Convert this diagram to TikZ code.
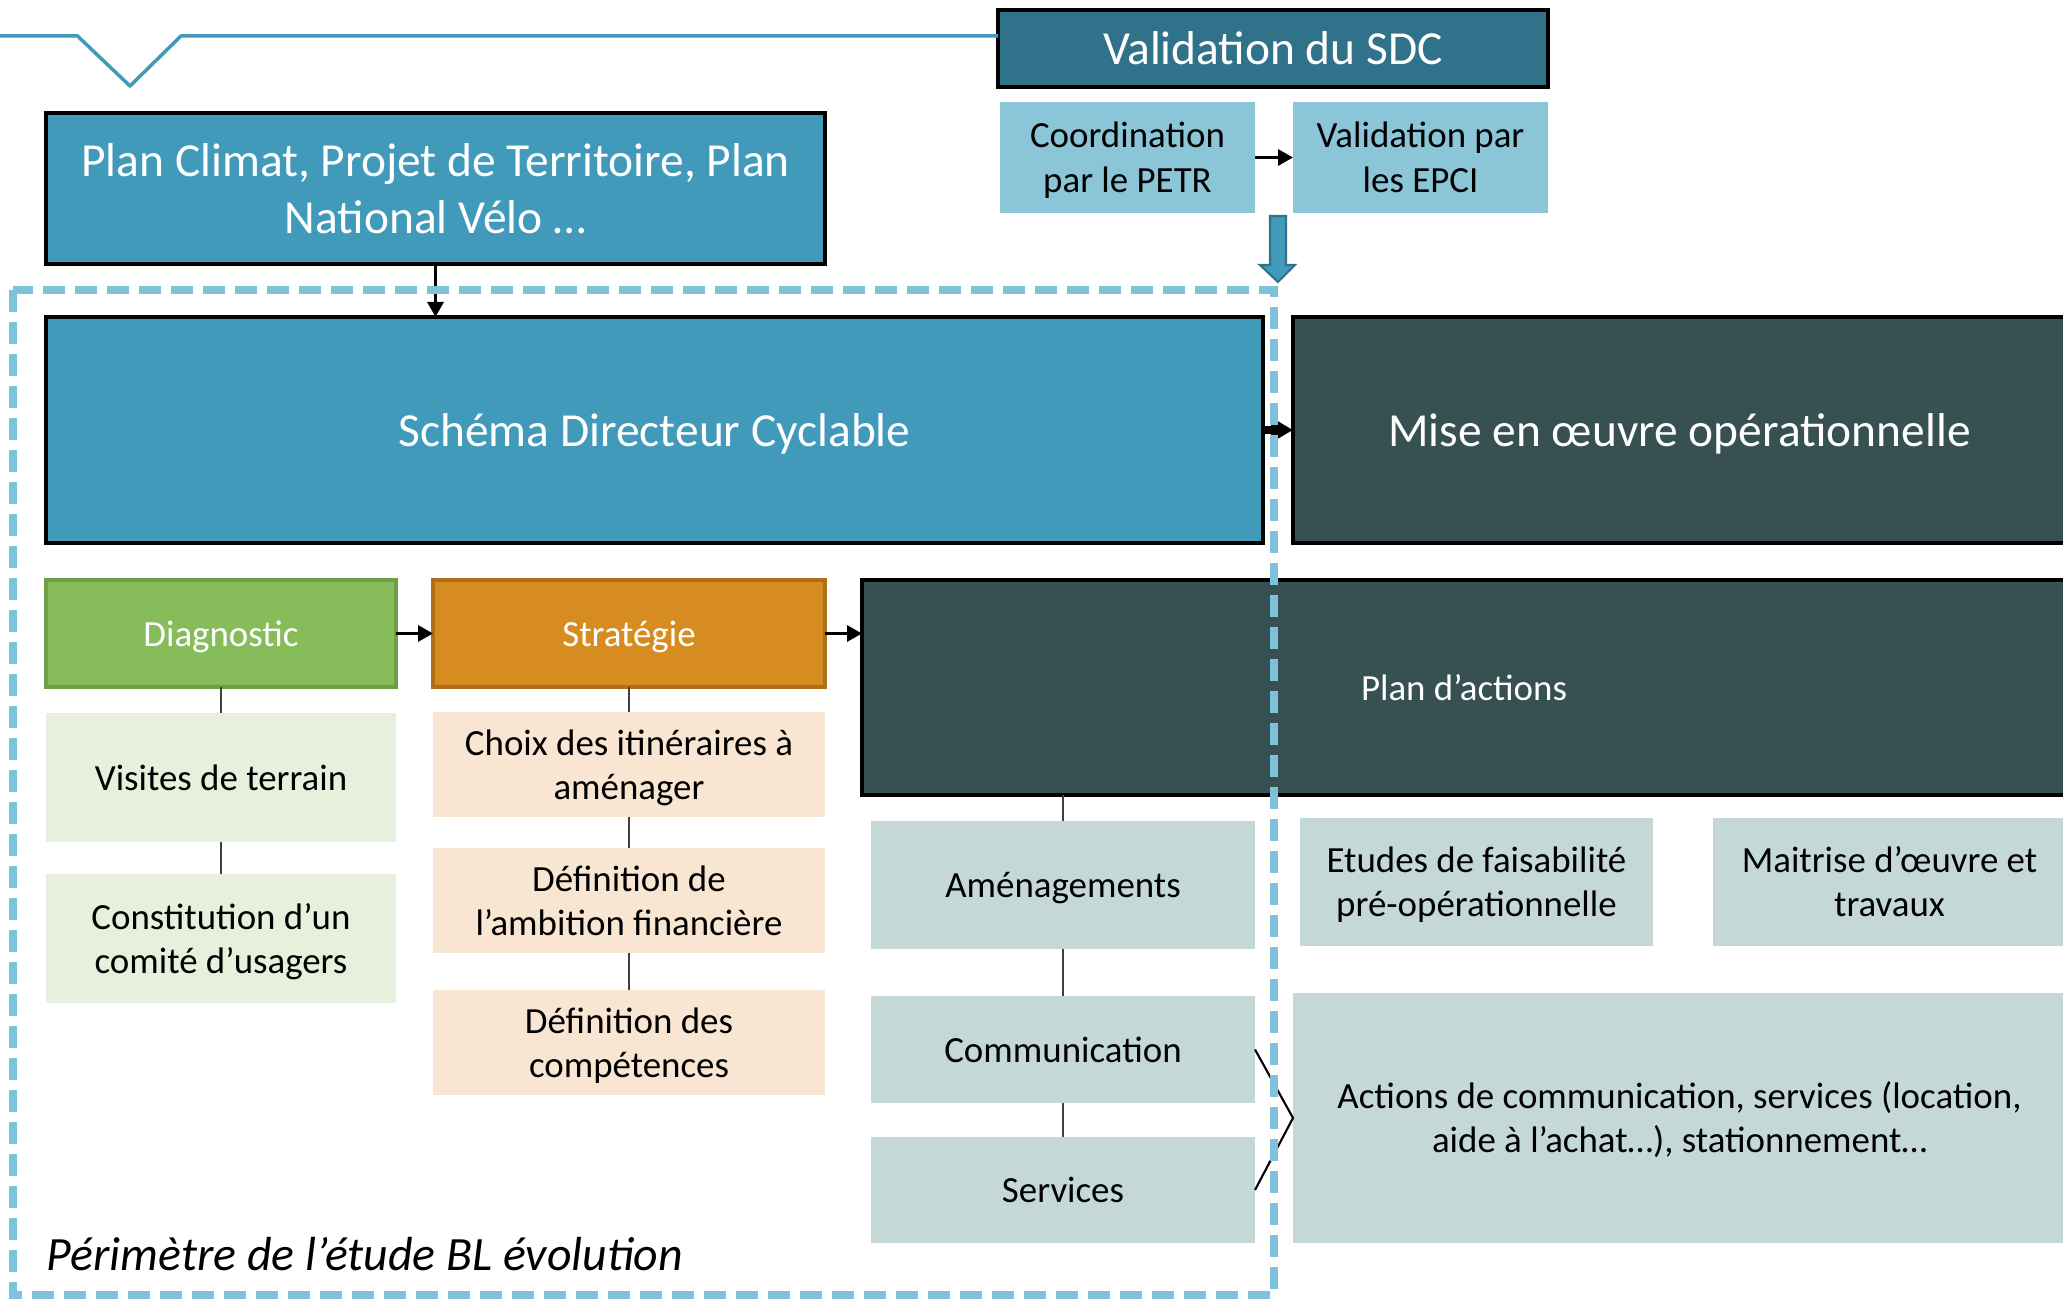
\documentclass[tikz,border=0pt]{standalone}
\usepackage{fontspec}
\setmainfont{Carlito}
\usepackage{xcolor}
\usepackage{tikz}
\usetikzlibrary{positioning, arrows.meta}

\definecolor{sdcblue}{HTML}{419AB9}
\definecolor{valteal}{HTML}{2F7289}
\definecolor{petrblue}{HTML}{8BC5D8}
\definecolor{slate}{HTML}{375152}
\definecolor{diaggreen}{HTML}{86BD5A}
\definecolor{diagedge}{HTML}{6E9E46}
\definecolor{stratorange}{HTML}{D78C22}
\definecolor{stratedge}{HTML}{AF6E18}
\definecolor{palegreen}{HTML}{E6F0DC}
\definecolor{paleorange}{HTML}{F8E6D2}
\definecolor{paleteal}{HTML}{C5D8D8}
\definecolor{dashblue}{HTML}{7EC3DB}
\definecolor{linkgray}{HTML}{404040}

\begin{document}
\begin{tikzpicture}[
    % Boxes with a black frame and white text
    bigbox/.style={
        rectangle,
        draw=black,
        line width=1pt,
        text=white,
        font=\fontsize{13.5}{16.2}\selectfont,
        inner sep=0pt,
        outer sep=0pt,
        align=center
    },
    % Light boxes, no frame, dark text
    subbox/.style={
        rectangle,
        text=black,
        font=\fontsize{10.5}{12.6}\selectfont,
        inner sep=0pt,
        outer sep=0pt,
        align=center
    },
    phase/.style={
        rectangle,
        line width=1pt,
        text=white,
        font=\fontsize{10.5}{12.6}\selectfont,
        inner sep=0pt,
        outer sep=0pt,
        align=center
    },
    % line boxes like the slide software: fixed ascent / descent
    small1/.style={text height=10pt, text depth=2.8pt},
    small2/.style={text height=22.6pt, text depth=2.8pt},
    large1/.style={text height=12.85pt, text depth=3.6pt},
    large2/.style={text height=29.05pt, text depth=3.6pt},
    link/.style={
        draw=linkgray,
        line width=0.6pt
    },
    flow/.style={
        draw=black,
        line width=0.9pt,
        -{Triangle[length=1.5mm, width=1.6mm]}
    },
    bigflow/.style={
        draw=black,
        line width=2pt,
        -{Triangle[length=2.2mm, width=2.4mm]}
    },
    perimeter/.style={
        draw=dashblue,
        line width=0.8mm,
        dash pattern=on 2.2mm off 1mm
    }
]
    \useasboundingbox (0,0) rectangle (20.63,-13.00);

    % --- Top: validation of the SDC ---
    \node[bigbox, large1, fill=valteal, minimum width=5.50cm, minimum height=0.77cm] (valsdc) at (12.73,-0.485) {Validation du SDC};
    \node[subbox, small2, fill=petrblue, minimum width=2.55cm, minimum height=1.11cm] (coord) at (11.275,-1.575) {Coordination\\par le PETR};
    \node[subbox, small2, fill=petrblue, minimum width=2.55cm, minimum height=1.11cm] (valepci) at (14.205,-1.575) {Validation par\\les EPCI};

    \coordinate (lstart) at (0,-0.36);
    \draw[sdcblue, line width=1pt] (lstart) -- (0.775,-0.36) -- (1.30,-0.86) -- (1.81,-0.36) -- (lstart -| valsdc.west);

    \draw[flow] (coord.east) -- (valepci.west);

    % block arrow down to the perimeter
    \coordinate (down) at (12.70,-2.16);
    \draw[valteal, fill=sdcblue, line width=0.6pt] (down) -- ++(0.16,0) -- ++(0,-0.49) -- ++(0.09,0)
        -- ++(-0.17,-0.17) -- ++(-0.18,0.17) -- ++(0.10,0) -- cycle;

    % --- Inputs and main blocks ---
    \node[bigbox, large2, fill=sdcblue, minimum width=7.79cm, minimum height=1.51cm] (climat) at (4.355,-1.885) {Plan Climat, Projet de Territoire, Plan\\National Vélo …};
    \node[bigbox, large1, fill=sdcblue, minimum width=12.17cm, minimum height=2.26cm] (sdc) at (6.545,-4.30) {Schéma Directeur Cyclable};
    \node[bigbox, large1, fill=slate, minimum width=7.73cm, minimum height=2.26cm] (mise) at (16.795,-4.30) {Mise en œuvre opérationnelle};

    \draw[flow] (climat.south) -- (sdc.north -| climat.south);
    \draw[bigflow] (sdc.east) -- (mise.west);

    % --- Phases ---
    \node[phase, small1, draw=diagedge, fill=diaggreen, minimum width=3.50cm, minimum height=1.07cm] (diag) at (2.21,-6.335) {Diagnostic};
    \node[phase, small1, draw=stratedge, fill=stratorange, minimum width=3.92cm, minimum height=1.07cm] (strat) at (6.29,-6.335) {Stratégie};
    \node[phase, small1, draw=black, fill=slate, minimum width=12.04cm, minimum height=2.15cm] (plan) at (14.64,-6.875) {Plan d’actions};

    \draw[flow] (diag.east) -- (strat.west);
    \draw[flow] (strat.east) -- (strat.east -| plan.west);

    % Diagnostic
    \node[subbox, small1, fill=palegreen, minimum width=3.50cm, minimum height=1.29cm] (visites) at (2.21,-7.775) {Visites de terrain};
    \node[subbox, small2, fill=palegreen, minimum width=3.50cm, minimum height=1.29cm] (comite) at (2.21,-9.385) {Constitution d’un\\comité d’usagers};
    \draw[link] (diag) -- (visites);
    \draw[link] (visites) -- (comite);

    % Stratégie
    \node[subbox, small2, fill=paleorange, minimum width=3.92cm, minimum height=1.05cm] (choix) at (6.29,-7.645) {Choix des itinéraires à\\aménager};
    \node[subbox, small2, fill=paleorange, minimum width=3.92cm, minimum height=1.05cm] (ambition) at (6.29,-9.005) {Définition de\\l’ambition financière};
    \node[subbox, small2, fill=paleorange, minimum width=3.92cm, minimum height=1.05cm] (compet) at (6.29,-10.425) {Définition des\\compétences};
    \draw[link] (strat) -- (choix);
    \draw[link] (choix) -- (ambition);
    \draw[link] (ambition) -- (compet);

    % Plan d'actions
    \node[subbox, small1, fill=paleteal, minimum width=3.84cm, minimum height=1.28cm] (amenag) at (10.63,-8.85) {Aménagements};
    \node[subbox, small1, fill=paleteal, minimum width=3.84cm, minimum height=1.07cm] (commu) at (10.63,-10.495) {Communication};
    \node[subbox, small1, fill=paleteal, minimum width=3.84cm, minimum height=1.06cm] (services) at (10.63,-11.90) {Services};
    \draw[link] (amenag.north) -- (amenag.north |- plan.south);
    \draw[link] (amenag) -- (commu);
    \draw[link] (commu) -- (services);

    % --- Operational side ---
    \node[subbox, small2, fill=paleteal, minimum width=3.53cm, minimum height=1.28cm] (etudes) at (14.765,-8.82) {Etudes de faisabilité\\pré-opérationnelle};
    \node[subbox, small2, fill=paleteal, minimum width=3.53cm, minimum height=1.28cm] (maitrise) at (18.895,-8.82) {Maitrise d’œuvre et\\travaux};
    \node[subbox, small2, fill=paleteal, minimum width=7.73cm, minimum height=2.50cm] (actions) at (16.795,-11.18) {Actions de communication, services (location,\\aide à l’achat…), stationnement…};

    \draw[draw=black, line width=0.6pt] (commu.east) -- (actions.west) -- (services.east);

    % --- Study perimeter ---
    \draw[perimeter] (0.13,-2.90) rectangle (12.74,-12.95);
    \node[anchor=west, inner sep=0pt, font=\fontsize{13.6}{16.3}\selectfont\itshape] (perim) at (0.46,-12.54) {Périmètre de l’étude BL évolution};

\end{tikzpicture}
\end{document}
